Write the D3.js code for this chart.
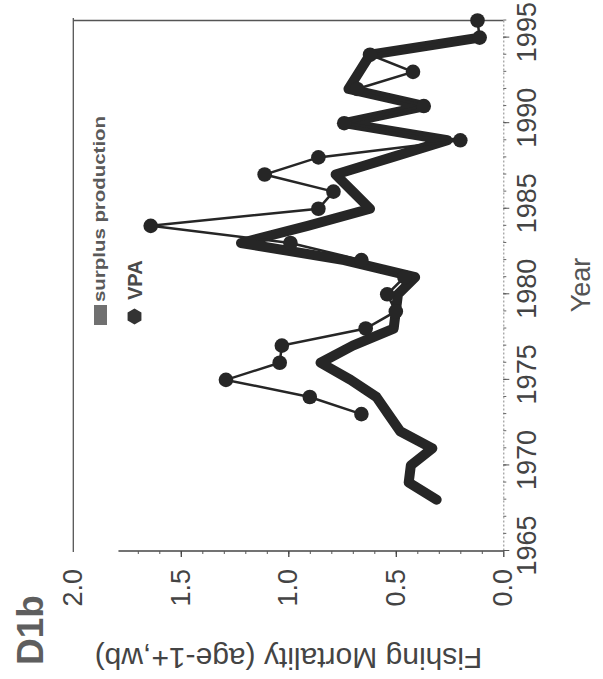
<!DOCTYPE html>
<html>
<head>
<meta charset="utf-8">
<script src="https://cdn.jsdelivr.net/npm/d3@7"></script>
<style>
  body { margin: 0; background: #fff; }
  svg { display: block; font-family: "Liberation Sans", Arial, sans-serif; }
</style>
</head>
<body>
<svg id="chart"></svg>
<script>
// values
const surplusYears = [1968, 1969, 1970, 1971, 1972, 1973, 1974, 1975, 1976, 1977, 1978, 1979, 1980, 1981,
                      1982, 1983, 1984, 1985, 1986, 1987, 1988, 1989, 1990, 1991, 1992, 1993, 1994, 1995];
const surplusF = [0.31, 0.44, 0.43, 0.33, 0.48, 0.535, 0.59, 0.71, 0.85, 0.70, 0.51, 0.50, 0.49, 0.41,
                  0.74, 1.22, 0.91, 0.62, 0.70, 0.78, 0.52, 0.26, 0.74, 0.365, 0.72, 0.67, 0.62, 0.11];

const vpaYears = [1973, 1974, 1975, 1976, 1977, 1978, 1979, 1980, 1981, 1982, 1983, 1984,
                  1985, 1986, 1987, 1988, 1989, 1990, 1991, 1992, 1993, 1994, 1995, 1996];
const vpaF = [0.66, 0.90, 1.29, 1.04, 1.03, 0.64, 0.50, 0.54, 0.46, 0.66, 0.99, 1.64,
              0.86, 0.79, 1.11, 0.86, 0.20, 0.74, 0.37, 0.68, 0.42, 0.62, 0.11, 0.12];

const yearTicks = [1965, 1970, 1975, 1980, 1985, 1990, 1995];
const mortalityTicks = [0.0, 0.5, 1.0, 1.5, 2.0];
const legendLabels = ["surplus production", "VPA"];
const panelLabel = "D1b";
const xTitle = "Year";
const yTitle = "Fishing Mortality (age-1+,wb)";

const W = 603, H = 679;

const svg = d3.select("#chart").attr("width", W).attr("height", H);

// the page shows the chart turned a quarter turn counter-clockwise,
// so draw it upright inside this group
const g = svg.append("g").attr("transform", `translate(0,${H}) rotate(-90)`);

const x = d3.scaleLinear().domain([1965, 1996]).range([128, 658.5]);
const y = d3.scaleLinear().domain([0, 2]).range([503.3, 73.3]);

const ink = "#262626";
const labelColor = "#444";

// frame: top and right edges
g.append("line")
    .attr("x1", x(1965) - 1).attr("x2", x(1996) + 2.5)
    .attr("y1", y(2)).attr("y2", y(2))
    .attr("stroke", "#555").attr("stroke-width", 1.3);
g.append("line")
    .attr("x1", x(1996)).attr("x2", x(1996))
    .attr("y1", y(2)).attr("y2", y(0))
    .attr("stroke", "#555").attr("stroke-width", 1.3);

// year axis
const xMinor = g.append("g")
    .attr("transform", `translate(0,${y(0)})`)
    .call(d3.axisBottom(x).tickValues(d3.range(1965, 1997)).tickSize(3).tickSizeOuter(0).tickFormat(""));
xMinor.select(".domain").attr("stroke", "#888").attr("stroke-dasharray", "2,2");
xMinor.selectAll(".tick line").attr("stroke", "#666");

const xAxis = g.append("g")
    .attr("transform", `translate(0,${y(0)})`)
    .call(d3.axisBottom(x).tickValues(yearTicks).tickFormat(d3.format("d"))
        .tickSize(6).tickSizeOuter(0).tickPadding(8));
xAxis.select(".domain").remove();
xAxis.selectAll(".tick line").attr("stroke", "#555");
xAxis.selectAll("text")
    .attr("font-family", null)
    .attr("font-size", 27)
    .attr("fill", labelColor)
    .attr("dx", 5);

// mortality axis (the line stops short of 2.0 in the original)
g.append("line")
    .attr("x1", x(1965)).attr("x2", x(1965))
    .attr("y1", y(1.79)).attr("y2", y(0))
    .attr("stroke", "#444").attr("stroke-width", 1.3);

const yMinor = g.append("g")
    .attr("transform", `translate(${x(1965)},0)`)
    .call(d3.axisLeft(y).tickValues(d3.range(1, 18).map(d => d / 10)).tickSize(3).tickSizeOuter(0).tickFormat(""));
yMinor.select(".domain").remove();
yMinor.selectAll(".tick line").attr("stroke", "#555");

const yAxis = g.append("g")
    .attr("transform", `translate(${x(1965)},0)`)
    .call(d3.axisLeft(y).tickValues(mortalityTicks).tickFormat(d3.format(".1f"))
        .tickSize(6).tickSizeOuter(0).tickPadding(12));
yAxis.select(".domain").remove();
yAxis.selectAll(".tick").filter(d => d === 2).select("line").remove();
yAxis.selectAll(".tick line").attr("stroke", "#444").attr("stroke-width", 1.3);
yAxis.selectAll("text")
    .attr("font-family", null)
    .attr("font-size", 27)
    .attr("fill", labelColor);

// series
const surplus = surplusYears.map((yr, i) => ({ year: yr, f: surplusF[i] }));
const vpa = vpaYears.map((yr, i) => ({ year: yr, f: vpaF[i] }));

const line = d3.line().x(d => x(d.year)).y(d => y(d.f));

g.append("path")
    .datum(surplus)
    .attr("d", line)
    .attr("fill", "none")
    .attr("stroke", ink)
    .attr("stroke-width", 10)
    .attr("stroke-linejoin", "round")
    .attr("stroke-linecap", "round");

g.append("path")
    .datum(vpa)
    .attr("d", line)
    .attr("fill", "none")
    .attr("stroke", ink)
    .attr("stroke-width", 2.5);

g.selectAll("circle.vpa")
    .data(vpa)
    .join("circle")
    .attr("class", "vpa")
    .attr("cx", d => x(d.year))
    .attr("cy", d => y(d.f))
    .attr("r", 7.3)
    .attr("fill", ink);

// legend
const legend = g.append("g");
legend.append("rect")
    .attr("x", 354).attr("y", 94)
    .attr("width", 20).attr("height", 13)
    .attr("fill", "#707070");
legend.append("text")
    .attr("x", 377).attr("y", 104.5)
    .attr("font-size", 17).attr("font-weight", "bold")
    .attr("fill", "#5a5a5a")
    .attr("textLength", 186).attr("lengthAdjust", "spacingAndGlyphs")
    .text(legendLabels[0]);

const hex = d3.range(6).map(k => {
    const a = Math.PI / 3 * k;
    return [362.5 + 8 * Math.cos(a), 134.5 + 8 * Math.sin(a)];
});
legend.append("path")
    .attr("d", d3.line()(hex) + "Z")
    .attr("fill", "#333");
legend.append("text")
    .attr("x", 379).attr("y", 142)
    .attr("font-size", 20).attr("font-weight", "bold")
    .attr("fill", "#4a4a4a")
    .text(legendLabels[1]);

// titles
g.append("text")
    .attr("x", 14).attr("y", 43)
    .attr("font-size", 37).attr("font-weight", "bold")
    .attr("fill", "#5e5e5e")
    .text(panelLabel);

g.append("text")
    .attr("x", 394).attr("y", 590)
    .attr("text-anchor", "middle")
    .attr("font-size", 27)
    .attr("fill", "#555")
    .text(xTitle);

// this one sits upside down on the page
svg.append("text")
    .attr("transform", "translate(288.5,648) rotate(180)")
    .attr("text-anchor", "middle")
    .attr("font-size", 30)
    .attr("fill", labelColor)
    .text(yTitle);
</script>
</body>
</html>
